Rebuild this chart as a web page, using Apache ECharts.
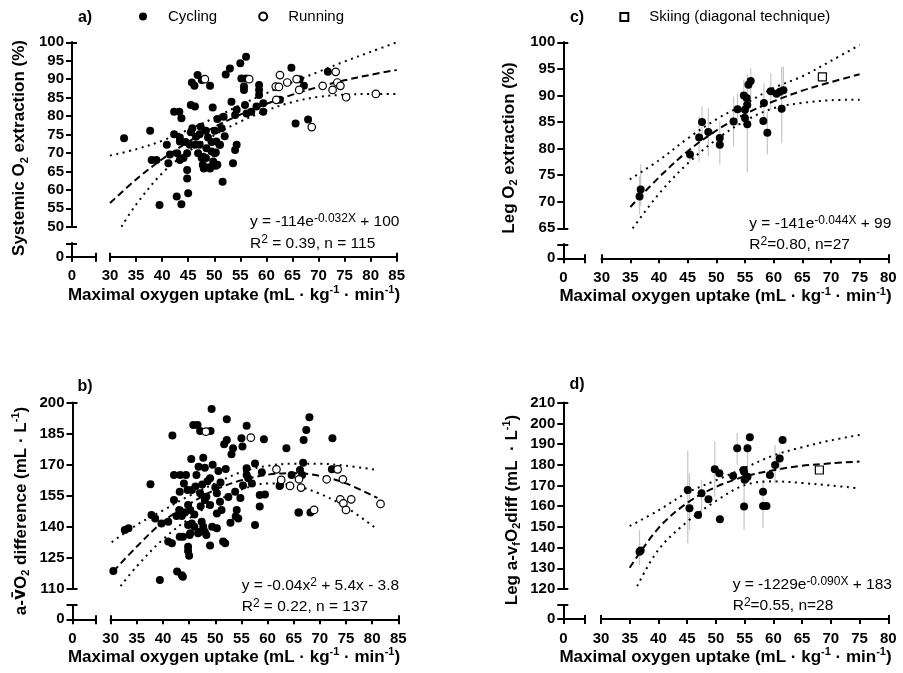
<!DOCTYPE html>
<html>
<head>
<meta charset="utf-8">
<title>Maximal oxygen uptake and O2 extraction</title>
<script src="https://cdn.jsdelivr.net/npm/echarts@6.0.0/dist/echarts.min.js"></script>
<style>
  html, body { margin: 0; padding: 0; background: #ffffff; }
  #chart { width: 903px; height: 673px; }
</style>
</head>
<body>
<div id="chart"></div>
<script>
// ---------- tick values ----------
const xTicks85 = [30, 35, 40, 45, 50, 55, 60, 65, 70, 75, 80, 85];
const xTicks80 = [30, 35, 40, 45, 50, 55, 60, 65, 70, 75, 80];
const aYTicks = [50, 55, 60, 65, 70, 75, 80, 85, 90, 95, 100];
const bYTicks = [110, 125, 140, 155, 170, 185, 200];
const cYTicks = [65, 70, 75, 80, 85, 90, 95, 100];
const dYTicks = [120, 130, 140, 150, 160, 170, 180, 190, 200, 210];

// ---------- a) systemic O2 extraction (%) ----------
const aCycling = [
  [32.7,74.0],[37.7,76.0],[42.3,75.1],[43.4,74.2],[40.9,72.2],[45.5,75.6],[45.8,76.7],[47.4,77.1],[48.4,76.0],[47.2,75.1],
  [50.6,79.2],[51.8,79.8],[50.1,76.0],[51.4,76.7],[50.4,73.1],[51.1,72.2],[54.3,72.2],[54.0,70.8],[53.3,83.9],[54.0,80.3],
  [54.3,81.7],[55.9,83.0],[56.2,80.7],[58.1,82.6],[59.4,83.5],[59.4,81.2],[57.1,81.2],[49.7,82.3],[45.5,83.0],[46.3,82.6],
  [42.3,81.2],[43.3,81.2],[43.7,79.4],[38.0,68.1],[38.9,68.1],[41.2,67.2],[41.5,69.6],[42.9,69.9],[43.4,68.1],[44.1,68.6],
  [44.8,69.9],[45.3,72.2],[46.3,72.2],[47.2,72.2],[46.9,69.9],[47.6,68.6],[48.4,68.6],[47.8,66.8],[48.0,65.8],[49.2,65.8],
  [49.8,67.7],[50.6,66.8],[48.5,71.3],[49.5,70.4],[50.1,69.9],[44.8,65.4],[44.8,63.1],[45.0,59.1],[42.8,58.2],[43.7,56.1],
  [39.5,55.9],[51.6,62.2],[53.6,67.2],[45.7,89.1],[46.2,88.2],[46.8,91.1],[47.6,89.8],[49.2,88.2],[52.2,91.3],[53.0,92.9],
  [55.0,94.3],[56.1,96.1],[55.2,90.2],[56.1,90.2],[55.7,88.0],[55.7,87.1],[58.6,88.4],[58.6,87.1],[58.6,85.7],[64.8,93.1],
  [65.6,78.0],[62.6,84.4],[66.4,90.0],[67.2,88.2],[68.0,79.1],[71.8,92.0],
  [43.4,73.1],[47.9,69.0],[48.0,66.1],[49.0,66.1],[50.3,70.1],[51.0,72.2],[50.3,66.5],[46.5,74.4],[44.5,73.0],[48.8,74.2],
  [52.0,74.5],[49.5,73.0]
];
const aRunning = [
  [48.2,90.0],[56.7,90.0],[61.9,84.4],[61.8,88.0],[62.4,87.9],[62.6,91.1],[64.0,89.1],[65.8,90.0],[66.3,87.1],[68.7,77.0],
  [70.8,88.2],[72.7,87.1],[73.3,92.0],[73.6,89.1],[74.2,88.2],[75.3,85.1],[81.0,86.0]
];
const aFit = [[30,56.4],[35,62.8],[40,68.3],[45,73.0],[50,77.0],[55,80.4],[60,83.3],[65,85.8],[70,87.9],[75,89.7],[80,91.2],[85,92.5]];
const aUpper = [[30,69.3],[35,71.0],[40,73.3],[45,76.3],[50,79.5],[55,83.0],[60,86.2],[65,89.2],[70,92.0],[75,94.8],[80,97.4],[85,100]];
const aLower = [[32.2,50],[35,56],[40,64.5],[45,70.3],[50,74.8],[55,78.5],[60,81.5],[65,83.8],[70,85.2],[75,85.8],[80,86],[85,86]];

// ---------- b) a-vO2 difference (mL/L) ----------
const bCycling = [
  [49.3,197],[52.2,192],[45.8,189.2],[46.6,189.2],[47.1,186.3],[49.1,186.3],[56,188.9],[41.8,184.1],[52.2,182],[51.7,179.9],
  [55,182.8],[53.4,178],[53.1,175.1],[55.2,178.8],[59.3,182.3],[63.6,178],[47.7,173.4],[46.8,169.1],[48,168.6],[42.1,165.1],
  [43.3,165.1],[44.4,165.1],[46.4,165.1],[49,163.5],[50.6,167],[52,168],[37.6,160.6],[43.2,157],[44.7,157.8],[45.5,157.8],
  [47.1,156.2],[48.3,154.6],[50,159],[50.3,156.2],[53.8,157],[56,168.3],[56,165.1],[56.3,163.5],[57,161],[58.5,155.4],
  [59.5,155.7],[58.9,166.4],[64.6,165.1],[66.2,167.5],[62.4,160.3],[65.9,147],[58.5,149.8],[57.6,140.9],[54.1,148.2],[54.4,144.1],
  [51.2,148.2],[50.9,152.2],[49,150.6],[48,153],[45.2,148.2],[44.2,147],[43.1,148.2],[44.8,150.6],[42.1,153],[41,142.5],
  [37.8,145.7],[38.5,144.1],[32.7,138.5],[33.4,139.3],[47.4,142.5],[47.7,140.1],[48,137.7],[47.1,137.7],[48.3,136.1],[50.3,139.3],
  [45.2,136.9],[43.2,135.3],[43.8,135.3],[41,132.9],[41.7,132.1],[44.8,130.4],[44.8,128.4],[45,126.1],[49,131],[51.5,132.9],
  [51.9,132.1],[30.5,118.7],[39.4,114.3],[42.7,118.4],[43.6,116.7],[43.8,115.9],[68,193],[67.4,186.8],[66.9,182],[66.8,171],
  [66.6,165.1],[66,146.9],[68.2,146.9],[72.4,182.8],[72.3,167.8],[62.3,159.8],
  [42.6,145.3],[43.6,145.3],[44.8,140.9],[45.5,141.7],[45.1,136.1],[46,140.1],[46.7,136.9],[49.4,140.1],[50.3,146.5],[52.9,142],
  [53.9,145],[39.7,141.7],[46.2,159.5],[47.5,160.5],[48.5,162],[51,161.5],[44,161],[49.5,170],[45.4,172.8],[52.5,154.5],
  [54.8,154],[47.2,150],[46,146],[55.3,160],[57.6,170.6]
];
const bRunning = [
  [48.2,186],[56.8,183.1],[61.7,167.8],[62.6,162.7],[64.3,159.8],[66.0,163.0],[66.4,159.0],[68.9,148.2],[71.3,163],[73.4,167.8],
  [74.4,163],[73.9,153.3],[74.5,151.4],[75,148.2],[76,153.3],[81.6,151.1]
];
const bFit = [[30.5,118.5],[35,130.5],[40,142.5],[45,151],[50,158],[55,162.5],[60,165.2],[65,166],[70,164.6],[75,161],[81,154]];
const bUpper = [[30.2,132.6],[35,141],[40,148],[45,155],[50,161],[55,166.5],[60,169.5],[65,170.5],[70,170.5],[75,169.5],[81,167.5]];
const bLower = [[31.9,111.4],[35,121],[40,134],[45,144],[50,152],[55,158],[60,161],[65,160],[70,156],[75,149.5],[81,138.8]];

// ---------- c) leg O2 extraction (%) ----------
const cLeg = [
  [36.6,71.0],[36.8,72.3],[45.4,78.9],[47.0,82.1],[47.5,85.0],[48.6,83.1],[50.6,82.0],[50.6,80.7],[53.0,85.1],[53.7,87.4],
  [54.8,90.0],[55.0,87.3],[55.0,85.7],[55.3,89.5],[55.4,88.2],[55.4,84.6],[55.6,92.0],[56.0,92.7],[58.3,88.6],[58.2,85.2],
  [58.9,83.0],[59.5,90.8],[60.5,90.3],[61.1,90.7],[61.7,91.0],[61.4,87.5]
];
const cSkiing = [[68.5,93.5]];
// x, lower end, upper end of each error bar
const cBars = [
  [36.6,67.6,74.8],[36.8,69.2,77.0],[45.4,77.5,80.3],[47.0,77.5,86.0],[47.5,82.0,88.0],[48.6,78.5,87.6],[50.6,77.0,85.0],
  [53.0,80.4,89.8],[53.7,84.2,90.4],[54.8,88.0,93.0],[55.4,75.5,94.0],[56.0,89.2,95.1],[58.3,84.8,92.3],[58.9,78.9,87.0],
  [59.5,87.3,94.2],[61.4,81.1,95.4],[61.7,91.0,95.4]
];
const cFit = [[35,69],[40,74.6],[45,79.5],[50,83.4],[55,86.5],[60,88.9],[65,90.9],[70,92.5],[75,94]];
const cUpper = [[34.9,74.2],[40,77.8],[45,81.9],[50,85.5],[55,88.4],[60,91.4],[65,93.6],[70,96.5],[75,99.5]];
const cLower = [[35.4,65],[40,71.5],[45,77.2],[50,81.7],[55,85.2],[60,87.6],[65,88.6],[70,89.1],[75,89.2]];

// ---------- d) leg a-vO2 difference (mL/L) ----------
const dLeg = [
  [36.7,138],[36.9,138.6],[45.1,167.8],[45.4,159],[46.9,155.7],[47.5,166.2],[48.7,163.3],[49.8,177.8],[50.6,175.9],[50.7,153.7],
  [53.0,174.6],[53.7,188],[54.8,177.5],[54.9,176.6],[54.9,159.8],[55.2,173.5],[55.5,174.2],[55.5,188],[55.9,193.3],[58.2,167],
  [58.2,160.1],[58.8,160.1],[59.4,175.1],[60.3,179.9],[61.1,183.1],[61.6,192],[55.0,172.8]
];
const dSkiing = [[68.0,177.5]];
const dBars = [
  [36.7,131.6,148.5],[45.1,142.1,186.8],[45.4,148.5,175.9],[47.5,156.6,172.7],[49.8,164.6,191.2],[53.7,179.9,195.5],
  [54.9,148.5,179.1],[55.5,174.3,189.6],[58.2,149.3,172.7],[60.3,171,189.6],[61.1,176.7,186.4]
];
const dFit = [[35,130.3],[40,149.4],[45,161.6],[50,169.3],[55,174.3],[60,177.4],[65,179.5],[70,180.7],[75,181.6]];
const dUpper = [[35,150.4],[40,158],[45,166.5],[50,172.5],[55,178.5],[60,184.5],[65,188.5],[70,191.8],[75,194.4]];
const dLower = [[36.3,121.4],[40,139],[45,152.5],[50,162.5],[55,170.2],[60,172],[65,171.2],[70,170],[75,168.6]];

// ---------- styling ----------
const FONT = '"Liberation Sans", Arial, Helvetica, sans-serif';
const MARK_FONT = '"DejaVu Sans", "Liberation Sans", sans-serif';
const INK = '#000000';

// plot rectangles and broken-axis geometry (pixels)
const panels = [
  { x: { min: 30, max: 85, ticks: xTicks85 }, y: { min: 50, max: 100, ticks: aYTicks },
    box: { plotLeft: 110, plotTop: 42.3, plotW: 286.7, plotH: 184.4, axisX: 72, axisY: 256.7, breakX: 95.7, breakY: 243.3 } },
  { x: { min: 30, max: 85, ticks: xTicks85 }, y: { min: 110, max: 200, ticks: bYTicks },
    box: { plotLeft: 110.7, plotTop: 402.7, plotW: 287.6, plotH: 186.3, axisX: 72.5, axisY: 619.3, breakX: 95.7, breakY: 605 } },
  { x: { min: 30, max: 80, ticks: xTicks80 }, y: { min: 65, max: 100, ticks: cYTicks },
    box: { plotLeft: 601.7, plotTop: 42.3, plotW: 286.6, plotH: 186, axisX: 563.3, axisY: 258.3, breakX: 585, breakY: 244.3 } },
  { x: { min: 30, max: 80, ticks: xTicks80 }, y: { min: 120, max: 210, ticks: dYTicks },
    box: { plotLeft: 601, plotTop: 402.7, plotW: 287.3, plotH: 186.3, axisX: 563.3, axisY: 619, breakX: 585, breakY: 605 } }
];

function valueAxis(gridIndex, position, offset, min, max, ticks, labels, tickLen, margin) {
  return {
    type: 'value', gridIndex, position, offset, min, max,
    interval: ticks[1] - ticks[0],
    axisLine: { show: true, onZero: false, lineStyle: { color: INK, width: 2, cap: 'square' } },
    axisTick: { show: true, length: tickLen, customValues: ticks, lineStyle: { color: INK, width: 2 } },
    axisLabel: { show: true, margin, customValues: labels, color: INK, fontFamily: FONT, fontWeight: 'bold', fontSize: 15 },
    splitLine: { show: false }, splitArea: { show: false }
  };
}
// inward ticks that close off each axis segment at a break
function capAxis(gridIndex, position, offset, min, max, at, len) {
  return {
    type: 'value', gridIndex, position, offset, min, max,
    axisLine: { show: false, onZero: false },
    axisTick: { show: true, inside: true, length: len, customValues: at, lineStyle: { color: INK, width: 2 } },
    axisLabel: { show: false }, splitLine: { show: false }
  };
}

const grid = [], xAxis = [], yAxis = [];
panels.forEach((p, k) => {
  const b = p.box;
  grid.push({ left: b.plotLeft, top: b.plotTop, width: b.plotW, height: b.plotH, containLabel: false, outerBoundsMode: 'none' });
  grid.push({ left: b.axisX, top: b.breakY, width: b.breakX - b.axisX, height: b.axisY - b.breakY, containLabel: false, outerBoundsMode: 'none' });
  const xOff = b.axisY - (b.plotTop + b.plotH);
  const yOff = b.plotLeft - b.axisX;
  xAxis.push(
    valueAxis(2 * k, 'bottom', xOff, p.x.min, p.x.max, p.x.ticks, p.x.ticks, 5, 12),
    capAxis(2 * k, 'bottom', xOff, p.x.min, p.x.max, [p.x.min, p.x.max], 4),
    valueAxis(2 * k + 1, 'bottom', 0, 0, 1, [0, 1], [0], 5, 12),
    capAxis(2 * k + 1, 'bottom', 0, 0, 1, [1], 4)
  );
  yAxis.push(
    valueAxis(2 * k, 'left', yOff, p.y.min, p.y.max, p.y.ticks, p.y.ticks, 6, 8),
    capAxis(2 * k, 'left', yOff, p.y.min, p.y.max, [p.y.min, p.y.max], 5),
    valueAxis(2 * k + 1, 'left', 0, 0, 1, [0, 1], [0], 6, 8),
    capAxis(2 * k + 1, 'left', 0, 0, 1, [1], 5)
  );
});

const dashed = { color: INK, width: 2, type: [7, 4] };
const dotted = { color: INK, width: 2, type: [2, 4.5] };
const filledDot = { symbol: 'circle', size: 8, item: { color: INK, opacity: 1 } };
const openDot = { symbol: 'circle', size: 7.5, item: { color: '#ffffff', borderColor: INK, borderWidth: 1.2, opacity: 1 } };
const openSquare = { symbol: 'rect', size: 8, item: { color: '#ffffff', borderColor: INK, borderWidth: 1.2, opacity: 1 } };

function curve(k, data, lineStyle) {
  return { type: 'line', xAxisIndex: 4 * k, yAxisIndex: 4 * k, data, smooth: 0.35, symbol: 'none',
           silent: true, clip: true, lineStyle, z: 2 };
}
function dots(k, name, data, look) {
  return { type: 'scatter', name, xAxisIndex: 4 * k, yAxisIndex: 4 * k, data, symbol: look.symbol,
           symbolSize: look.size, itemStyle: look.item, silent: true, z: 3 };
}
function errorBars(k, data) {
  return {
    type: 'custom', xAxisIndex: 4 * k, yAxisIndex: 4 * k, data, silent: true, clip: true, z: 1,
    encode: { x: 0, y: [1, 2] },
    renderItem(params, api) {
      const lo = api.coord([api.value(0), api.value(1)]);
      const hi = api.coord([api.value(0), api.value(2)]);
      return { type: 'line', shape: { x1: lo[0], y1: lo[1], x2: hi[0], y2: hi[1] },
               style: { stroke: '#c6c6c6', lineWidth: 1.2 } };
    }
  };
}

const series = [
  curve(0, aUpper, dotted), curve(0, aLower, dotted), curve(0, aFit, dashed),
  dots(0, 'Cycling', aCycling, filledDot), dots(0, 'Running', aRunning, openDot),

  curve(1, bUpper, dotted), curve(1, bLower, dotted), curve(1, bFit, dashed),
  dots(1, 'Cycling', bCycling, filledDot), dots(1, 'Running', bRunning, openDot),

  errorBars(2, cBars),
  curve(2, cUpper, dotted), curve(2, cLower, dotted), curve(2, cFit, dashed),
  dots(2, 'Leg studies', cLeg, filledDot), dots(2, 'Skiing (diagonal technique)', cSkiing, openSquare),

  errorBars(3, dBars),
  curve(3, dUpper, dotted), curve(3, dLower, dotted), curve(3, dFit, dashed),
  dots(3, 'Leg studies', dLeg, filledDot), dots(3, 'Skiing (diagonal technique)', dSkiing, openSquare)
];

// ---------- text: panel letters, axis titles, fit equations ----------
function richSet(size, weight, supSize) {
  const base = { fontFamily: FONT, fontWeight: weight, fill: INK };
  return {
    sup: Object.assign({}, base, { fontSize: supSize, verticalAlign: 'top', lineHeight: size * 0.8 }),
    sub: Object.assign({}, base, { fontSize: supSize, verticalAlign: 'bottom', lineHeight: size * 0.7 }),
    vbar: Object.assign({}, base, { fontFamily: MARK_FONT, fontSize: size, lineHeight: Math.round(size * 1.25) })
  };
}
function label(x, y, text, size, weight, supSize, align, rotation) {
  return {
    type: 'text', x, y, rotation: rotation || 0, silent: true,
    style: {
      text, fontFamily: FONT, fontSize: size, fontWeight: weight, fill: INK,
      lineHeight: Math.round(size * 1.25),
      align, textAlign: align, verticalAlign: 'middle', textVerticalAlign: 'middle',
      rich: richSet(size, weight, supSize)
    }
  };
}
const xTitle = 'Maximal oxygen uptake (mL · kg{sup|-1} · min{sup|-1})';
const UP = Math.PI / 2;
const T = 17, TS = 11;      // axis-title font and its super/subscript size
const E = 15.5, ES = 12;    // equation font and its superscript size

const texts = [
  label(85, 17.5, 'a)', 16, 'bold', 11, 'center'),
  label(85, 387, 'b)', 16, 'bold', 11, 'center'),
  label(577, 18, 'c)', 16, 'bold', 11, 'center'),
  label(577, 385, 'd)', 16, 'bold', 11, 'center'),

  label(234, 295, xTitle, T, 'bold', TS, 'center'),
  label(234, 657, xTitle, T, 'bold', TS, 'center'),
  label(725.5, 296.5, xTitle, T, 'bold', TS, 'center'),
  label(725.5, 657, xTitle, T, 'bold', TS, 'center'),

  label(19.5, 148, 'Systemic O{sub|2} extraction (%)', T, 'bold', TS, 'center', UP),
  label(21, 511, 'a-{vbar|v\u0304}O{sub|2} difference (mL · L{sup|-1})', T, 'bold', TS, 'center', UP),
  label(509, 148, 'Leg O{sub|2} extraction (%)', T, 'bold', TS, 'center', UP),
  label(512, 510, 'Leg a-v{sub|f}O{sub|2}diff (mL  · L{sup|-1})', T, 'bold', TS, 'center', UP),

  label(250, 221.7, 'y = -114e{sup|-0.032X} + 100', E, 'normal', ES, 'left'),
  label(250, 243.3, 'R{sup|2} = 0.39, n = 115', E, 'normal', ES, 'left'),
  label(241.7, 586, 'y = -0.04x{sup|2} + 5.4x - 3.8', E, 'normal', ES, 'left'),
  label(241.7, 606.7, 'R{sup|2} = 0.22, n = 137', E, 'normal', ES, 'left'),
  label(749.3, 224, 'y = -141e{sup|-0.044X} + 99', E, 'normal', ES, 'left'),
  label(749.3, 245, 'R{sup|2}=0.80, n=27', E, 'normal', ES, 'left'),
  label(732.7, 585, 'y = -1229e{sup|-0.090X} + 183', E, 'normal', ES, 'left'),
  label(732.7, 605.7, 'R{sup|2}=0.55, n=28', E, 'normal', ES, 'left')
];

const legendText = { fontFamily: FONT, fontSize: 15, color: INK, padding: [0, 0, 0, 16] };
const option = {
  animation: false,
  backgroundColor: '#ffffff',
  textStyle: { fontFamily: FONT },
  grid, xAxis, yAxis, series,
  legend: [
    { data: ['Cycling', 'Running'], left: 139, top: 9, padding: 0, itemWidth: 8, itemHeight: 8, itemGap: 41,
      selectedMode: false, textStyle: legendText },
    { data: ['Skiing (diagonal technique)'], left: 619.3, top: 9.5, padding: 0, itemWidth: 8, itemHeight: 8,
      selectedMode: false, textStyle: legendText }
  ],
  graphic: { elements: texts }
};

const chart = echarts.init(document.getElementById('chart'), null, { renderer: 'canvas' });
chart.setOption(option);
</script>
</body>
</html>
